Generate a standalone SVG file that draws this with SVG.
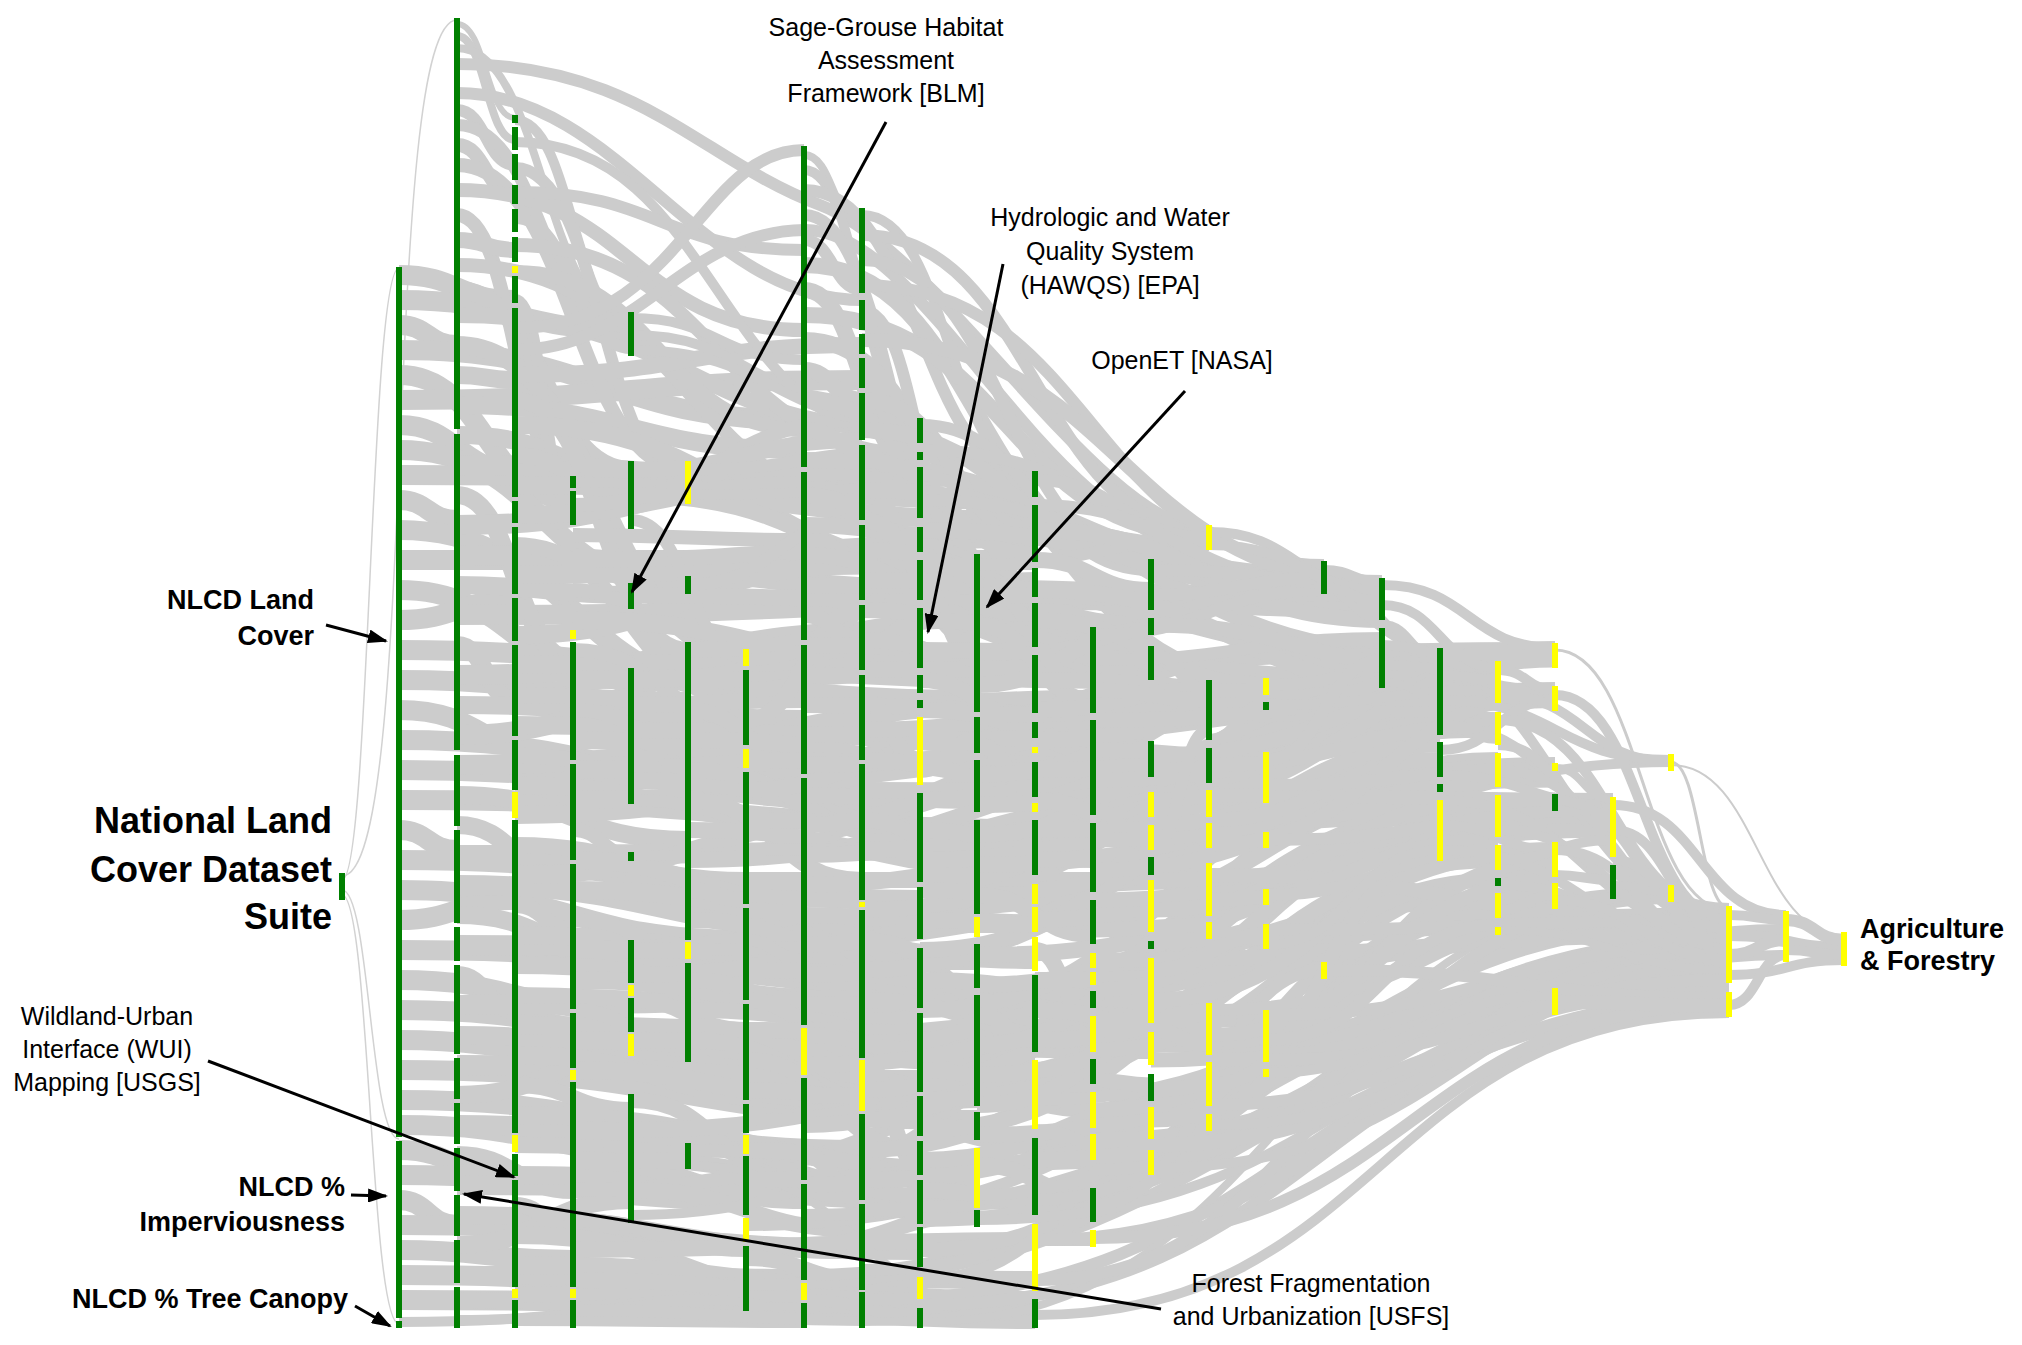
<svg xmlns="http://www.w3.org/2000/svg" width="2022" height="1345" viewBox="0 0 2022 1345">
<style>
.lk{fill:none;stroke:#cccccc;stroke-width:14}
.th{fill:none;stroke:#d2d2d2;stroke-width:1.5}
.g{stroke:#008000;stroke-width:6;fill:none}
.y{stroke:#ffff00;stroke-width:6;fill:none}
.ar{stroke:#000;stroke-width:3;fill:none;marker-end:url(#ah)}
.t{font-family:"Liberation Sans",Arial,sans-serif;font-size:25px;fill:#000}
.b{font-family:"Liberation Sans",Arial,sans-serif;font-weight:bold;font-size:27px;fill:#000}
.bb{font-family:"Liberation Sans",Arial,sans-serif;font-weight:bold;font-size:36px;fill:#000}
</style>
<defs>
<marker id="ah" markerUnits="userSpaceOnUse" markerWidth="20" markerHeight="14" viewBox="0 0 20 14" refX="18" refY="7" orient="auto"><path d="M0 0L20 7L0 14z" fill="#000"/></marker>
</defs>
<rect width="2022" height="1345" fill="#fff"/>
<g id="links" class="lk">
<g id="thin" class="th">
<path d="M342 880C370 880 370 268 399 268"/>
<path d="M342 876C420 876 380 20 457 20"/>
<path d="M342 890C370 890 370 1139 399 1139"/>
<path d="M342 895C370 895 370 1324 399 1324"/>
</g>
<g id="from1" stroke-width="20">
<path d="M399 275C457 275 457 300 515 300"/>
<path d="M399 300C515 300 515 330 631 330"/>
<path d="M399 325C428 325 428 345 457 345"/>
<path d="M399 350C602 350 602 420 804 420"/>
<path d="M399 375C486 375 486 500 573 500"/>
<path d="M399 400C631 400 631 380 862 380"/>
<path d="M399 425C457 425 457 470 515 470"/>
<path d="M399 450C544 450 544 588 688 588"/>
<path d="M399 475C660 475 660 480 920 480"/>
<path d="M399 500C428 500 428 520 457 520"/>
<path d="M399 530C573 530 573 690 746 690"/>
<path d="M399 560H1035"/>
<path d="M399 590C515 590 515 680 631 680"/>
<path d="M399 620C457 620 457 600 515 600"/>
<path d="M399 650C688 650 688 700 977 700"/>
<path d="M399 680C602 680 602 720 804 720"/>
<path d="M399 710C486 710 486 760 573 760"/>
<path d="M399 740C631 740 631 800 862 800"/>
<path d="M399 770C544 770 544 780 688 780"/>
<path d="M399 800C746 800 746 830 1093 830"/>
<path d="M399 830C428 830 428 850 457 850"/>
<path d="M399 860C660 860 660 900 920 900"/>
<path d="M399 890C573 890 573 940 746 940"/>
<path d="M399 920C457 920 457 900 515 900"/>
<path d="M399 950C717 950 717 990 1035 990"/>
<path d="M399 980C515 980 515 1010 631 1010"/>
<path d="M399 1010C602 1010 602 1060 804 1060"/>
<path d="M399 1040C486 1040 486 1050 573 1050"/>
<path d="M399 1070C688 1070 688 1120 977 1120"/>
<path d="M399 1100C631 1100 631 1150 862 1150"/>
<path d="M399 1125C544 1125 544 1155 688 1155"/>
<path d="M399 1150C457 1150 457 1180 515 1180"/>
<path d="M399 1175C573 1175 573 1200 746 1200"/>
<path d="M399 1200C428 1200 428 1225 457 1225"/>
<path d="M399 1225C660 1225 660 1250 920 1250"/>
<path d="M399 1250C486 1250 486 1260 573 1260"/>
<path d="M399 1275C602 1275 602 1290 804 1290"/>
<path d="M399 1300C717 1300 717 1310 1035 1310"/>
<path d="M399 1322C573 1322 573 1305 746 1305" stroke-width="10"/>
</g>
<g id="from2" stroke-width="20">
<path d="M457 24C486 24 486 118 515 118" stroke-width="6"/>
<path d="M457 36C486 36 486 140 515 140" stroke-width="8"/>
<path d="M457 48C544 48 544 320 631 320" stroke-width="8"/>
<path d="M457 64C640 64 700 160 820 205S1100 530 1209 530" stroke-width="12"/>
<path d="M457 93C620 93 700 300 862 300" stroke-width="12"/>
<path d="M457 110C486 110 486 165 515 165" stroke-width="12"/>
<path d="M457 125C544 125 544 340 631 340" stroke-width="12"/>
<path d="M457 145C486 145 486 195 515 195" stroke-width="14"/>
<path d="M457 165C573 165 573 470 688 470" stroke-width="14"/>
<path d="M457 190C631 190 631 330 804 330" stroke-width="14"/>
<path d="M457 215C515 215 515 480 573 480" stroke-width="14"/>
<path d="M457 240C486 240 486 250 515 250" stroke-width="16"/>
<path d="M457 265C689 265 689 520 920 520" stroke-width="14"/>
<path d="M457 290C544 290 544 470 631 470" stroke-width="18"/>
<path d="M457 315C689 315 689 430 920 430" stroke-width="16"/>
<path d="M457 345C602 345 602 655 746 655" stroke-width="18"/>
<path d="M457 375C486 375 486 380 515 380" stroke-width="18"/>
<path d="M457 405C631 405 631 450 804 450" stroke-width="18"/>
<path d="M457 435C573 435 573 490 688 490" stroke-width="18"/>
<path d="M457 465C746 465 746 500 1035 500"/>
<path d="M457 495C515 495 515 660 573 660" stroke-width="18"/>
<path d="M457 525C660 525 660 470 862 470"/>
<path d="M457 555C717 555 717 590 977 590"/>
<path d="M457 585C544 585 544 595 631 595" stroke-width="18"/>
<path d="M457 615C804 615 804 600 1151 600"/>
<path d="M457 645C486 645 486 700 515 700" stroke-width="18"/>
<path d="M457 675C689 675 689 630 920 630"/>
<path d="M457 705C602 705 602 720 746 720" stroke-width="18"/>
<path d="M457 735C631 735 631 650 804 650"/>
<path d="M457 765C775 765 775 700 1093 700"/>
<path d="M457 795C573 795 573 840 688 840" stroke-width="18"/>
<path d="M457 825C515 825 515 880 573 880" stroke-width="18"/>
<path d="M457 855C746 855 746 850 1035 850"/>
<path d="M457 885C660 885 660 930 862 930"/>
<path d="M457 915C544 915 544 955 631 955" stroke-width="18"/>
<path d="M457 945C717 945 717 960 977 960"/>
<path d="M457 975C486 975 486 1010 515 1010" stroke-width="18"/>
<path d="M457 1005C804 1005 804 990 1151 990"/>
<path d="M457 1035C602 1035 602 1060 746 1060" stroke-width="18"/>
<path d="M457 1065C689 1065 689 1080 920 1080"/>
<path d="M457 1095C573 1095 573 1030 688 1030" stroke-width="18"/>
<path d="M457 1125C631 1125 631 1150 804 1150"/>
<path d="M457 1155C515 1155 515 1190 573 1190" stroke-width="18"/>
<path d="M457 1185C775 1185 775 1200 1093 1200"/>
<path d="M457 1215C660 1215 660 1250 862 1250" stroke-width="18"/>
<path d="M457 1245C544 1245 544 1200 631 1200" stroke-width="18"/>
<path d="M457 1275C746 1275 746 1280 1035 1280" stroke-width="18"/>
<path d="M457 1300C631 1300 631 1315 804 1315" stroke-width="16"/>
<path d="M457 1320C602 1320 602 1300 746 1300" stroke-width="10"/>
</g>
<g id="from3" stroke-width="20">
<path d="M515 120C573 120 573 325 631 325" stroke-width="10"/>
<path d="M515 142C718 142 718 440 920 440" stroke-width="10"/>
<path d="M515 168C602 168 602 480 688 480" stroke-width="12"/>
<path d="M515 192C660 192 660 250 804 250" stroke-width="12"/>
<path d="M515 218C573 218 573 348 631 348" stroke-width="12"/>
<path d="M515 245C718 245 718 455 920 455" stroke-width="14"/>
<path d="M515 272C660 272 660 430 804 430" stroke-width="14"/>
<path d="M515 300C544 300 544 510 573 510" stroke-width="12"/>
<path d="M515 328C680 328 700 150 804 150" stroke-width="12"/>
<path d="M515 350C640 350 680 232 804 230S1050 545 1209 545" stroke-width="12"/>
<path d="M515 375C689 375 689 345 862 345" stroke-width="16"/>
<path d="M515 400C602 400 602 650 688 650" stroke-width="16"/>
<path d="M515 425C746 425 746 570 977 570" stroke-width="18"/>
<path d="M515 455C573 455 573 500 631 500" stroke-width="16"/>
<path d="M515 485C775 485 775 520 1035 520" stroke-width="18"/>
<path d="M515 515C660 515 660 485 804 485" stroke-width="18"/>
<path d="M515 545C631 545 631 700 746 700" stroke-width="16"/>
<path d="M515 575C718 575 718 565 920 565" stroke-width="18"/>
<path d="M515 605C544 605 544 680 573 680" stroke-width="16"/>
<path d="M515 635C689 635 689 565 862 565" stroke-width="18"/>
<path d="M515 665C804 665 804 655 1093 655" stroke-width="18"/>
<path d="M515 695C602 695 602 700 688 700" stroke-width="16"/>
<path d="M515 725C746 725 746 765 977 765" stroke-width="18"/>
<path d="M515 755C573 755 573 765 631 765" stroke-width="16"/>
<path d="M515 785C660 785 660 820 804 820" stroke-width="18"/>
<path d="M515 815C862 815 862 700 1209 700" stroke-width="18"/>
<path d="M515 845C631 845 631 880 746 880" stroke-width="16"/>
<path d="M515 875C718 875 718 810 920 810" stroke-width="18"/>
<path d="M515 905C544 905 544 930 573 930" stroke-width="16"/>
<path d="M515 935C775 935 775 1000 1035 1000" stroke-width="18"/>
<path d="M515 965C689 965 689 1000 862 1000" stroke-width="18"/>
<path d="M515 995C602 995 602 1000 688 1000" stroke-width="16"/>
<path d="M515 1025C833 1025 833 1050 1151 1050" stroke-width="18"/>
<path d="M515 1055C660 1055 660 1100 804 1100" stroke-width="18"/>
<path d="M515 1085C573 1085 573 1110 631 1110" stroke-width="16"/>
<path d="M515 1115C746 1115 746 1170 977 1170" stroke-width="18"/>
<path d="M515 1145C631 1145 631 1150 746 1150" stroke-width="16"/>
<path d="M515 1175C718 1175 718 1200 920 1200" stroke-width="18"/>
<path d="M515 1205C544 1205 544 1230 573 1230" stroke-width="16"/>
<path d="M515 1235C689 1235 689 1300 862 1300" stroke-width="18"/>
<path d="M515 1265C775 1265 775 1300 1035 1300" stroke-width="18"/>
<path d="M515 1295C631 1295 631 1285 746 1285" stroke-width="16"/>
<path d="M515 1320C660 1320 660 1322 804 1322" stroke-width="12"/>
</g>
<g id="from4" stroke-width="18">
<path d="M573 482C631 482 631 485 688 485" stroke-width="10"/>
<path d="M573 505C718 505 718 420 862 420" stroke-width="14"/>
<path d="M573 535C689 535 689 540 804 540" stroke-width="14"/>
<path d="M573 560C804 560 804 540 1035 540" stroke-width="16"/>
<path d="M573 590C602 590 602 600 631 600" stroke-width="14"/>
<path d="M573 620C747 620 747 660 920 660"/>
<path d="M573 650C660 650 660 720 746 720" stroke-width="14"/>
<path d="M573 680C862 680 862 650 1151 650"/>
<path d="M573 710C631 710 631 740 688 740" stroke-width="14"/>
<path d="M573 740C775 740 775 800 977 800"/>
<path d="M573 770C718 770 718 760 862 760"/>
<path d="M573 800C833 800 833 760 1093 760"/>
<path d="M573 830C602 830 602 855 631 855" stroke-width="14"/>
<path d="M573 860C689 860 689 900 804 900"/>
<path d="M573 890C804 890 804 960 1035 960"/>
<path d="M573 920C660 920 660 980 746 980" stroke-width="14"/>
<path d="M573 950C891 950 891 880 1209 880"/>
<path d="M573 980C747 980 747 1020 920 1020"/>
<path d="M573 1010C631 1010 631 1050 688 1050" stroke-width="14"/>
<path d="M573 1040C833 1040 833 1100 1093 1100"/>
<path d="M573 1070C718 1070 718 1100 862 1100"/>
<path d="M573 1100C602 1100 602 1160 631 1160" stroke-width="14"/>
<path d="M573 1130C775 1130 775 1200 977 1200"/>
<path d="M573 1160C689 1160 689 1200 804 1200"/>
<path d="M573 1190C920 1190 920 1040 1266 1040" stroke-width="14"/>
<path d="M573 1220C660 1220 660 1250 746 1250" stroke-width="14"/>
<path d="M573 1250C804 1250 804 1240 1035 1240" stroke-width="16"/>
<path d="M573 1280C747 1280 747 1300 920 1300" stroke-width="16"/>
<path d="M573 1310C718 1310 718 1320 862 1320" stroke-width="12"/>
</g>
<g id="from5" stroke-width="16">
<path d="M631 318C718 318 718 360 804 360" stroke-width="10"/>
<path d="M631 335C747 335 747 400 862 400" stroke-width="10"/>
<path d="M631 350C776 350 776 425 920 425" stroke-width="10"/>
<path d="M631 470C747 470 747 440 862 440"/>
<path d="M631 495C862 495 862 635 1093 635"/>
<path d="M631 520C689 520 689 658 746 658" stroke-width="12"/>
<path d="M631 595C776 595 776 600 920 600"/>
<path d="M631 680C833 680 833 610 1035 610"/>
<path d="M631 705C718 705 718 700 804 700"/>
<path d="M631 730C891 730 891 750 1151 750"/>
<path d="M631 755C660 755 660 800 688 800"/>
<path d="M631 780C804 780 804 830 977 830"/>
<path d="M631 800C747 800 747 850 862 850" stroke-width="12"/>
<path d="M631 856C920 856 920 760 1209 760" stroke-width="10"/>
<path d="M631 950C776 950 776 960 920 960"/>
<path d="M631 975C862 975 862 900 1093 900"/>
<path d="M631 1000C689 1000 689 1030 746 1030"/>
<path d="M631 1040C833 1040 833 1065 1035 1065"/>
<path d="M631 1100C718 1100 718 1180 804 1180"/>
<path d="M631 1130C949 1130 949 1015 1266 1015"/>
<path d="M631 1160C804 1160 804 1215 977 1215"/>
<path d="M631 1190C747 1190 747 1230 862 1230"/>
<path d="M631 1215C978 1215 978 968 1324 968" stroke-width="10"/>
</g>
<g id="from6" stroke-width="16">
<path d="M688 470C804 470 804 450 920 450" stroke-width="12"/>
<path d="M688 495C862 495 862 480 1035 480" stroke-width="10"/>
<path d="M688 585C775 585 775 520 862 520" stroke-width="12"/>
<path d="M688 650C833 650 833 620 977 620"/>
<path d="M688 680C920 680 920 660 1151 660"/>
<path d="M688 710C746 710 746 760 804 760"/>
<path d="M688 740C891 740 891 780 1093 780"/>
<path d="M688 770C804 770 804 840 920 840"/>
<path d="M688 800C775 800 775 880 862 880"/>
<path d="M688 830C862 830 862 870 1035 870"/>
<path d="M688 860C977 860 977 760 1266 760"/>
<path d="M688 890C717 890 717 900 746 900"/>
<path d="M688 920C833 920 833 1000 977 1000"/>
<path d="M688 950C949 950 949 910 1209 910" stroke-width="12"/>
<path d="M688 980C746 980 746 1000 804 1000"/>
<path d="M688 1010C920 1010 920 1090 1151 1090"/>
<path d="M688 1040C804 1040 804 1110 920 1110"/>
<path d="M688 1150C891 1150 891 1205 1093 1205" stroke-width="12"/>
<path d="M688 1165C862 1165 862 1320 1035 1320" stroke-width="8"/>
</g>
<g id="from7" stroke-width="16">
<path d="M746 660C862 660 862 560 977 560" stroke-width="12"/>
<path d="M746 690C891 690 891 580 1035 580"/>
<path d="M746 720C804 720 804 610 862 610"/>
<path d="M746 760C949 760 949 770 1151 770"/>
<path d="M746 790C833 790 833 760 920 760"/>
<path d="M746 820C920 820 920 840 1093 840"/>
<path d="M746 850C1093 850 1093 820 1440 820" stroke-width="12"/>
<path d="M746 880H977"/>
<path d="M746 910C891 910 891 1010 1035 1010"/>
<path d="M746 940C775 940 775 960 804 960" stroke-width="12"/>
<path d="M746 970C978 970 978 1010 1209 1010"/>
<path d="M746 1000C804 1000 804 1050 862 1050"/>
<path d="M746 1030C1006 1030 1006 1045 1266 1045"/>
<path d="M746 1060C833 1060 833 1150 920 1150"/>
<path d="M746 1090C920 1090 920 1150 1093 1150"/>
<path d="M746 1120C1093 1120 1093 850 1440 850" stroke-width="12"/>
<path d="M746 1150C862 1150 862 1180 977 1180"/>
<path d="M746 1180C949 1180 949 1160 1151 1160"/>
<path d="M746 1225C1151 1225 1151 1000 1555 1000" stroke-width="12"/>
<path d="M746 1258C804 1258 804 1280 862 1280"/>
<path d="M746 1285C1238 1285 1238 1012 1729 1012" stroke-width="12"/>
<path d="M746 1306C891 1306 891 1322 1035 1322" stroke-width="8"/>
</g>
<g id="from8" stroke-width="16">
<path d="M804 155C833 155 833 225 862 225" stroke-width="8"/>
<path d="M804 170C862 170 862 425 920 425" stroke-width="10"/>
<path d="M804 190C920 190 920 478 1035 478" stroke-width="12"/>
<path d="M804 215C891 215 891 560 977 560" stroke-width="12"/>
<path d="M804 240C833 240 833 290 862 290" stroke-width="12"/>
<path d="M804 265C978 265 978 565 1151 565"/>
<path d="M804 290C862 290 862 470 920 470"/>
<path d="M804 315C1007 315 1007 535 1209 535"/>
<path d="M804 340C920 340 920 525 1035 525"/>
<path d="M804 370C833 370 833 400 862 400"/>
<path d="M804 400C949 400 949 640 1093 640"/>
<path d="M804 430C891 430 891 600 977 600"/>
<path d="M804 460C1064 460 1064 575 1324 575"/>
<path d="M804 495C862 495 862 535 920 535"/>
<path d="M804 525C978 525 978 605 1151 605"/>
<path d="M804 555C920 555 920 630 1035 630"/>
<path d="M804 585C1093 585 1093 595 1382 595"/>
<path d="M804 615C833 615 833 640 862 640"/>
<path d="M804 645C1035 645 1035 690 1266 690"/>
<path d="M804 675C891 675 891 680 977 680"/>
<path d="M804 705C1007 705 1007 720 1209 720"/>
<path d="M804 735C949 735 949 725 1093 725"/>
<path d="M804 765C1122 765 1122 665 1440 665"/>
<path d="M804 795C862 795 862 800 920 800"/>
<path d="M804 825C920 825 920 770 1035 770"/>
<path d="M804 855C978 855 978 805 1151 805"/>
<path d="M804 885C1151 885 1151 675 1498 675"/>
<path d="M804 915C891 915 891 925 977 925"/>
<path d="M804 945C1007 945 1007 800 1209 800"/>
<path d="M804 975C1180 975 1180 700 1555 700"/>
<path d="M804 1005C949 1005 949 1000 1093 1000"/>
<path d="M804 1035C862 1035 862 1050 920 1050"/>
<path d="M804 1065C1151 1065 1151 900 1498 900"/>
<path d="M804 1095C920 1095 920 1100 1035 1100"/>
<path d="M804 1125C1035 1125 1035 940 1266 940"/>
<path d="M804 1155C833 1155 833 1200 862 1200"/>
<path d="M804 1185C978 1185 978 1130 1151 1130"/>
<path d="M804 1215C1267 1215 1267 960 1729 960" stroke-width="12"/>
<path d="M804 1245C891 1245 891 1215 977 1215"/>
<path d="M804 1275C1180 1275 1180 1005 1555 1005" stroke-width="12"/>
<path d="M804 1300C862 1300 862 1315 920 1315" stroke-width="12"/>
<path d="M804 1320C920 1320 920 1325 1035 1325" stroke-width="8"/>
</g>
<g id="from9" stroke-width="16">
<path d="M862 215C949 215 949 474 1035 474" stroke-width="10"/>
<path d="M862 235C1036 235 1036 530 1209 530" stroke-width="12"/>
<path d="M862 260C1007 260 1007 562 1151 562" stroke-width="12"/>
<path d="M862 285C1093 285 1093 565 1324 565" stroke-width="12"/>
<path d="M862 310C920 310 920 578 977 578" stroke-width="12"/>
<path d="M862 340C1122 340 1122 582 1382 582" stroke-width="14"/>
<path d="M862 370C891 370 891 500 920 500"/>
<path d="M862 400C978 400 978 630 1093 630"/>
<path d="M862 430C1064 430 1064 680 1266 680"/>
<path d="M862 460C949 460 949 555 1035 555"/>
<path d="M862 490C1151 490 1151 655 1440 655"/>
<path d="M862 520C920 520 920 640 977 640"/>
<path d="M862 550C1007 550 1007 625 1151 625"/>
<path d="M862 580C1180 580 1180 665 1498 665"/>
<path d="M862 610C1007 610 1007 670 1151 670"/>
<path d="M862 640C949 640 949 680 1035 680"/>
<path d="M862 670C1209 670 1209 650 1555 650"/>
<path d="M862 700C891 700 891 760 920 760"/>
<path d="M862 730C1122 730 1122 640 1382 640"/>
<path d="M862 760C978 760 978 800 1093 800"/>
<path d="M862 790C1238 790 1238 805 1613 805"/>
<path d="M862 820C920 820 920 860 977 860"/>
<path d="M862 850C1064 850 1064 780 1266 780"/>
<path d="M862 880H1151"/>
<path d="M862 910C1151 910 1151 700 1440 700"/>
<path d="M862 940C949 940 949 1020 1035 1020"/>
<path d="M862 970C1036 970 1036 870 1209 870"/>
<path d="M862 1000C978 1000 978 1040 1093 1040"/>
<path d="M862 1030C1267 1030 1267 762 1671 762" stroke-width="10"/>
<path d="M862 1060C891 1060 891 1165 920 1165"/>
<path d="M862 1090C1180 1090 1180 760 1498 760"/>
<path d="M862 1120C920 1120 920 1100 977 1100"/>
<path d="M862 1150C1151 1150 1151 840 1440 840"/>
<path d="M862 1180C1007 1180 1007 1150 1151 1150"/>
<path d="M862 1210C1296 1210 1296 985 1729 985" stroke-width="14"/>
<path d="M862 1240H1093" stroke-width="12"/>
<path d="M862 1270C1209 1270 1209 995 1555 995" stroke-width="12"/>
<path d="M862 1300C1296 1300 1296 1008 1729 1008" stroke-width="12"/>
<path d="M862 1322C949 1322 949 1310 1035 1310" stroke-width="8"/>
</g>
<g id="from10" stroke-width="16">
<path d="M920 425C1036 425 1036 570 1151 570" stroke-width="12"/>
<path d="M920 450C1122 450 1122 580 1324 580" stroke-width="12"/>
<path d="M920 475C978 475 978 540 1035 540" stroke-width="12"/>
<path d="M920 500C1065 500 1065 545 1209 545" stroke-width="12"/>
<path d="M920 530C1151 530 1151 600 1382 600"/>
<path d="M920 560C1007 560 1007 680 1093 680"/>
<path d="M920 590C949 590 949 660 977 660"/>
<path d="M920 620C1093 620 1093 700 1266 700"/>
<path d="M920 650C1180 650 1180 680 1440 680"/>
<path d="M920 680C978 680 978 720 1035 720"/>
<path d="M920 710C1036 710 1036 760 1151 760"/>
<path d="M920 740C1209 740 1209 700 1498 700"/>
<path d="M920 770C949 770 949 740 977 740"/>
<path d="M920 800C1151 800 1151 665 1382 665"/>
<path d="M920 830C1007 830 1007 860 1093 860"/>
<path d="M920 860C1238 860 1238 690 1555 690"/>
<path d="M920 890C978 890 978 895 1035 895"/>
<path d="M920 920C1065 920 1065 930 1209 930"/>
<path d="M920 950C1093 950 1093 840 1266 840"/>
<path d="M920 980C1036 980 1036 1000 1151 1000"/>
<path d="M920 1010C1180 1010 1180 760 1440 760"/>
<path d="M920 1040C949 1040 949 1030 977 1030"/>
<path d="M920 1070C1007 1070 1007 1110 1093 1110"/>
<path d="M920 1100C1267 1100 1267 820 1613 820"/>
<path d="M920 1130C1209 1130 1209 820 1498 820"/>
<path d="M920 1160C1065 1160 1065 1095 1209 1095"/>
<path d="M920 1190C978 1190 978 1200 1035 1200"/>
<path d="M920 1220C1325 1220 1325 940 1729 940" stroke-width="14"/>
<path d="M920 1250C1238 1250 1238 870 1555 870" stroke-width="14"/>
<path d="M920 1280C1093 1280 1093 1070 1266 1070" stroke-width="12"/>
<path d="M920 1305C1325 1305 1325 1000 1729 1000" stroke-width="12"/>
<path d="M920 1322C1296 1322 1296 895 1671 895" stroke-width="8"/>
</g>
<g id="from11" stroke-width="16">
<path d="M977 565C1093 565 1093 540 1209 540" stroke-width="12"/>
<path d="M977 595C1180 595 1180 610 1382 610"/>
<path d="M977 625C1035 625 1035 700 1093 700"/>
<path d="M977 655C1151 655 1151 588 1324 588" stroke-width="12"/>
<path d="M977 685C1064 685 1064 630 1151 630"/>
<path d="M977 715C1238 715 1238 680 1498 680"/>
<path d="M977 745C1006 745 1006 790 1035 790"/>
<path d="M977 775C1122 775 1122 705 1266 705"/>
<path d="M977 805C1209 805 1209 720 1440 720"/>
<path d="M977 835C1093 835 1093 770 1209 770"/>
<path d="M977 865C1266 865 1266 765 1555 765"/>
<path d="M977 895C1035 895 1035 935 1093 935"/>
<path d="M977 925C1064 925 1064 920 1151 920"/>
<path d="M977 955C1295 955 1295 825 1613 825"/>
<path d="M977 985C1238 985 1238 805 1498 805"/>
<path d="M977 1015C1006 1015 1006 1040 1035 1040"/>
<path d="M977 1045C1122 1045 1122 895 1266 895"/>
<path d="M977 1075C1238 1075 1238 860 1498 860"/>
<path d="M977 1105C1093 1105 1093 1020 1209 1020"/>
<path d="M977 1135C1353 1135 1353 920 1729 920"/>
<path d="M977 1165C1035 1165 1035 1195 1093 1195"/>
<path d="M977 1195C1266 1195 1266 900 1555 900" stroke-width="12"/>
<path d="M977 1220C1353 1220 1353 990 1729 990" stroke-width="10"/>
</g>
<g id="from12" stroke-width="16">
<path d="M1035 480C1122 480 1122 538 1209 538" stroke-width="12"/>
<path d="M1035 505C1180 505 1180 582 1324 582" stroke-width="12"/>
<path d="M1035 530C1209 530 1209 620 1382 620"/>
<path d="M1035 560C1093 560 1093 590 1151 590"/>
<path d="M1035 590C1238 590 1238 690 1440 690"/>
<path d="M1035 620C1151 620 1151 685 1266 685"/>
<path d="M1035 650C1064 650 1064 740 1093 740"/>
<path d="M1035 680C1267 680 1267 720 1498 720"/>
<path d="M1035 710C1122 710 1122 690 1209 690"/>
<path d="M1035 740C1209 740 1209 680 1382 680"/>
<path d="M1035 770C1295 770 1295 700 1555 700"/>
<path d="M1035 800C1093 800 1093 830 1151 830"/>
<path d="M1035 830C1324 830 1324 810 1613 810"/>
<path d="M1035 860C1238 860 1238 780 1440 780"/>
<path d="M1035 890C1151 890 1151 790 1266 790"/>
<path d="M1035 920C1267 920 1267 780 1498 780"/>
<path d="M1035 950C1064 950 1064 1020 1093 1020"/>
<path d="M1035 980C1382 980 1382 930 1729 930"/>
<path d="M1035 1010C1122 1010 1122 1040 1209 1040"/>
<path d="M1035 1040C1295 1040 1295 850 1555 850"/>
<path d="M1035 1070C1151 1070 1151 930 1266 930"/>
<path d="M1035 1100C1353 1100 1353 892 1671 892" stroke-width="12"/>
<path d="M1035 1130C1093 1130 1093 1170 1151 1170" stroke-width="12"/>
<path d="M1035 1160C1382 1160 1382 950 1729 950"/>
<path d="M1035 1200C1267 1200 1267 910 1498 910" stroke-width="12"/>
<path d="M1035 1240C1382 1240 1382 970 1729 970" stroke-width="12"/>
<path d="M1035 1280C1295 1280 1295 1008 1555 1008" stroke-width="12"/>
<path d="M1035 1315C1382 1315 1382 1013 1729 1013" stroke-width="10"/>
</g>
<g id="from13" stroke-width="15">
<path d="M1093 635C1209 635 1209 590 1324 590" stroke-width="12"/>
<path d="M1093 660C1238 660 1238 640 1382 640" stroke-width="12"/>
<path d="M1093 690C1151 690 1151 700 1209 700"/>
<path d="M1093 720C1267 720 1267 710 1440 710"/>
<path d="M1093 750C1180 750 1180 758 1266 758"/>
<path d="M1093 780C1296 780 1296 730 1498 730"/>
<path d="M1093 810C1122 810 1122 845 1151 845"/>
<path d="M1093 840C1324 840 1324 780 1555 780"/>
<path d="M1093 870C1267 870 1267 805 1440 805"/>
<path d="M1093 900C1353 900 1353 815 1613 815"/>
<path d="M1093 930C1151 930 1151 925 1209 925"/>
<path d="M1093 960C1411 960 1411 935 1729 935"/>
<path d="M1093 990C1267 990 1267 830 1440 830"/>
<path d="M1093 1020H1266"/>
<path d="M1093 1050C1296 1050 1296 880 1498 880"/>
<path d="M1093 1080C1122 1080 1122 1085 1151 1085"/>
<path d="M1093 1110C1324 1110 1324 890 1555 890"/>
<path d="M1093 1140C1411 1140 1411 955 1729 955"/>
<path d="M1093 1170C1382 1170 1382 898 1671 898" stroke-width="12"/>
<path d="M1093 1205C1209 1205 1209 970 1324 970" stroke-width="12"/>
<path d="M1093 1238C1411 1238 1411 1005 1729 1005" stroke-width="12"/>
</g>
<g id="from14" stroke-width="15">
<path d="M1151 570C1267 570 1267 585 1382 585" stroke-width="12"/>
<path d="M1151 595C1238 595 1238 578 1324 578" stroke-width="12"/>
<path d="M1151 625C1296 625 1296 665 1440 665"/>
<path d="M1151 655C1180 655 1180 690 1209 690" stroke-width="12"/>
<path d="M1151 755C1325 755 1325 690 1498 690"/>
<path d="M1151 770H1266"/>
<path d="M1151 800C1353 800 1353 660 1555 660"/>
<path d="M1151 825C1296 825 1296 745 1440 745"/>
<path d="M1151 850C1180 850 1180 730 1209 730" stroke-width="12"/>
<path d="M1151 880C1382 880 1382 830 1613 830"/>
<path d="M1151 910C1325 910 1325 800 1498 800"/>
<path d="M1151 940C1440 940 1440 915 1729 915"/>
<path d="M1151 970C1209 970 1209 935 1266 935"/>
<path d="M1151 1000C1353 1000 1353 800 1555 800"/>
<path d="M1151 1030C1180 1030 1180 1045 1209 1045"/>
<path d="M1151 1060C1440 1060 1440 945 1729 945"/>
<path d="M1151 1090C1325 1090 1325 915 1498 915"/>
<path d="M1151 1120C1353 1120 1353 860 1555 860"/>
<path d="M1151 1145C1440 1145 1440 965 1729 965"/>
<path d="M1151 1168C1469 1168 1469 955 1786 955" stroke-width="10"/>
</g>
<g id="from15" stroke-width="14">
<path d="M1209 532C1296 532 1296 590 1382 590" stroke-width="10"/>
<path d="M1209 545C1354 545 1354 665 1498 665" stroke-width="10"/>
<path d="M1209 690C1325 690 1325 700 1440 700"/>
<path d="M1209 715C1382 715 1382 648 1555 648"/>
<path d="M1209 740C1238 740 1238 705 1266 705" stroke-width="12"/>
<path d="M1209 765C1354 765 1354 725 1498 725"/>
<path d="M1209 795C1411 795 1411 800 1613 800"/>
<path d="M1209 820C1325 820 1325 760 1440 760"/>
<path d="M1209 845C1382 845 1382 695 1555 695"/>
<path d="M1209 875C1469 875 1469 925 1729 925"/>
<path d="M1209 900C1354 900 1354 840 1498 840"/>
<path d="M1209 930C1238 930 1238 940 1266 940" stroke-width="12"/>
<path d="M1209 1010C1440 1010 1440 895 1671 895" stroke-width="12"/>
<path d="M1209 1035C1382 1035 1382 880 1555 880"/>
<path d="M1209 1060C1469 1060 1469 950 1729 950"/>
<path d="M1209 1085C1325 1085 1325 855 1440 855"/>
<path d="M1209 1105C1498 1105 1498 930 1786 930" stroke-width="12"/>
<path d="M1209 1125C1469 1125 1469 978 1729 978" stroke-width="10"/>
</g>
<g id="from16" stroke-width="12">
<path d="M1266 685C1353 685 1353 660 1440 660"/>
<path d="M1266 705C1382 705 1382 690 1498 690" stroke-width="10"/>
<path d="M1266 760C1324 760 1324 660 1382 660"/>
<path d="M1266 785C1411 785 1411 768 1555 768"/>
<path d="M1266 840C1440 840 1440 810 1613 810"/>
<path d="M1266 895C1382 895 1382 850 1498 850"/>
<path d="M1266 930C1498 930 1498 920 1729 920"/>
<path d="M1266 945C1353 945 1353 850 1440 850" stroke-width="10"/>
<path d="M1266 1015C1498 1015 1498 945 1729 945"/>
<path d="M1266 1040C1382 1040 1382 925 1498 925"/>
<path d="M1266 1060C1498 1060 1498 980 1729 980"/>
<path d="M1266 1073C1411 1073 1411 995 1555 995" stroke-width="10"/>
</g>
<g id="from17to25" stroke-width="10">
<path d="M1324 570C1353 570 1353 582 1382 582"/>
<path d="M1324 588C1382 588 1382 652 1440 652"/>
<path d="M1324 970C1527 970 1527 998 1729 998" stroke-width="12"/>
<path d="M1382 585C1469 585 1469 648 1555 648"/>
<path d="M1382 605C1440 605 1440 668 1498 668"/>
<path d="M1382 625C1411 625 1411 660 1440 660"/>
<path d="M1382 645C1556 645 1556 908 1729 908"/>
<path d="M1382 665C1469 665 1469 690 1555 690"/>
<path d="M1382 682C1440 682 1440 740 1498 740" stroke-width="8"/>
<path d="M1440 655C1498 655 1498 655 1555 655"/>
<path d="M1440 675C1469 675 1469 680 1498 680"/>
<path d="M1440 700C1556 700 1556 760 1671 760"/>
<path d="M1440 725C1585 725 1585 915 1729 915"/>
<path d="M1440 750C1498 750 1498 700 1555 700"/>
<path d="M1440 775C1527 775 1527 805 1613 805"/>
<path d="M1440 800C1585 800 1585 930 1729 930"/>
<path d="M1440 825C1498 825 1498 850 1555 850"/>
<path d="M1440 850C1585 850 1585 945 1729 945"/>
<path d="M1498 670C1527 670 1527 690 1555 690"/>
<path d="M1498 695C1585 695 1585 762 1671 762"/>
<path d="M1498 720C1614 720 1614 912 1729 912"/>
<path d="M1498 745C1556 745 1556 815 1613 815"/>
<path d="M1498 770C1614 770 1614 925 1729 925"/>
<path d="M1498 800H1555"/>
<path d="M1498 830C1614 830 1614 940 1729 940"/>
<path d="M1498 860C1556 860 1556 840 1613 840"/>
<path d="M1498 885C1614 885 1614 955 1729 955"/>
<path d="M1498 910C1527 910 1527 895 1555 895"/>
<path d="M1498 930C1614 930 1614 970 1729 970" stroke-width="8"/>
<path d="M1555 650C1642 650 1642 910 1729 910" stroke-width="3"/>
<path d="M1555 695C1642 695 1642 920 1729 920"/>
<path d="M1555 768C1584 768 1584 800 1613 800" stroke-width="8"/>
<path d="M1555 800C1642 800 1642 935 1729 935"/>
<path d="M1555 850C1642 850 1642 948 1729 948"/>
<path d="M1555 875C1584 875 1584 880 1613 880"/>
<path d="M1555 900C1642 900 1642 960 1729 960"/>
<path d="M1555 1002C1642 1002 1642 1006 1729 1006" stroke-width="14"/>
<path d="M1613 805C1700 805 1700 915 1786 915"/>
<path d="M1613 830C1671 830 1671 930 1729 930"/>
<path d="M1613 860C1671 860 1671 950 1729 950"/>
<path d="M1613 885C1642 885 1642 893 1671 893" stroke-width="8"/>
<path d="M1671 762C1700 762 1700 908 1729 908" stroke-width="3"/>
<path d="M1671 765C1758 765 1758 935 1844 935" stroke-width="2"/>
<path d="M1671 893C1700 893 1700 965 1729 965"/>
<path d="M1729 915C1758 915 1758 920 1786 920"/>
<path d="M1729 935C1786 935 1786 948 1844 948" stroke-width="12"/>
<path d="M1729 955C1758 955 1758 940 1786 940" stroke-width="12"/>
<path d="M1729 975C1786 975 1786 960 1844 960"/>
<path d="M1729 1005C1758 1005 1758 955 1786 955"/>
<path d="M1786 920C1815 920 1815 940 1844 940" stroke-width="12"/>
<path d="M1786 950C1815 950 1815 955 1844 955"/>
</g>
</g>
<g id="nodes">
<g id="n0"><path class="g" d="M342 873V900"/></g>
<g id="n1"><path class="g" d="M399 267V1137M399 1141V1318M399 1321V1328"/></g>
<g id="n2"><path class="g" d="M457 18V429M457 434V750M457 755V826M457 830V923M457 927V961M457 965V1054M457 1058V1099M457 1103V1144M457 1148V1191M457 1195V1236M457 1240V1283M457 1287V1328"/></g>
<g id="n3"><path class="g" d="M515 115V123M515 127V150M515 154V180M515 185V204M515 209V232M515 237V262M515 276V303M515 308V497M515 501V523M515 527V594M515 598V641M515 645V736M515 740V790M515 820V1133M515 1154V1176M515 1180V1287M515 1300V1328"/><path class="y" d="M515 266V273M515 792V818M515 1135V1152M515 1289V1298"/></g>
<g id="n4"><path class="g" d="M573 476V488M573 491V525M573 642V760M573 764V860M573 864V1009M573 1013V1068M573 1082V1287M573 1300V1328"/><path class="y" d="M573 630V639M573 1070V1080M573 1289V1298"/></g>
<g id="n5"><path class="g" d="M631 312V356M631 461V529M631 583V609M631 668V804M631 852V861M631 940V983M631 998V1032M631 1094V1223"/><path class="y" d="M631 985V996M631 1034V1056"/></g>
<g id="n6"><path class="g" d="M688 576V594M688 642V940M688 963V1062M688 1143V1169"/><path class="y" d="M688 461V504M688 942V959"/></g>
<g id="n7"><path class="g" d="M746 670V745M746 772V904M746 908V1000M746 1004V1100M746 1104V1133M746 1156V1215M746 1246V1311"/><path class="y" d="M746 649V666M746 749V768M746 1135V1154M746 1218V1242"/></g>
<g id="n8"><path class="g" d="M804 146V467M804 472V640M804 645V774M804 778V1025M804 1078V1180M804 1184V1280M804 1303V1328"/><path class="y" d="M804 1028V1075M804 1283V1300"/></g>
<g id="n9"><path class="g" d="M862 208V293M862 300V330M862 334V354M862 358V388M862 393V440M862 445V520M862 525V600M862 605V670M862 675V760M862 764V900M862 910V1058M862 1114V1200M862 1204V1290M862 1292V1328"/><path class="y" d="M862 902V907M862 1060V1111"/></g>
<g id="n10"><path class="g" d="M920 418V443M920 452V460M920 467V518M920 527V552M920 560V600M920 608V668M920 675V693M920 700V708M920 793V882M920 887V939M920 948V1008M920 1013V1092M920 1096V1136M920 1141V1175M920 1180V1224M920 1227V1267M920 1308V1328"/><path class="y" d="M920 717V785M920 1277V1299"/></g>
<g id="n11"><path class="g" d="M977 554V712M977 717V753M977 760V812M977 820V914M977 944V988M977 995V1106M977 1112V1140M977 1210V1227"/><path class="y" d="M977 917V937M977 1148V1208"/></g>
<g id="n12"><path class="g" d="M1035 471V497M1035 505V562M1035 568V597M1035 603V647M1035 655V713M1035 722V738M1035 762V797M1035 820V875M1035 975V1052M1035 1138V1215M1035 1299V1328"/><path class="y" d="M1035 747V753M1035 803V812M1035 884V904M1035 907V932M1035 937V971M1035 1060V1129M1035 1224V1291"/></g>
<g id="n13"><path class="g" d="M1093 627V713M1093 720V815M1093 823V892M1093 900V944M1093 991V1008M1093 1059V1084M1093 1188V1222"/><path class="y" d="M1093 953V968M1093 972V985M1093 1016V1052M1093 1092V1128M1093 1134V1160M1093 1230V1247"/></g>
<g id="n14"><path class="g" d="M1151 559V610M1151 618V635M1151 646V680M1151 741V777M1151 857V875M1151 941V949M1151 1074V1101"/><path class="y" d="M1151 792V817M1151 825V850M1151 880V932M1151 958V1023M1151 1032V1065M1151 1107V1139M1151 1150V1175"/></g>
<g id="n15"><path class="g" d="M1209 680V740M1209 748V783"/><path class="y" d="M1209 525V550M1209 790V817M1209 823V848M1209 863V916M1209 922V939M1209 1003V1055M1209 1062V1106M1209 1114V1131"/></g>
<g id="n16"><path class="g" d="M1266 702V710"/><path class="y" d="M1266 678V695M1266 752V803M1266 832V848M1266 889V905M1266 924V949M1266 1010V1062M1266 1069V1077"/></g>
<g id="n17"><path class="g" d="M1324 561V594"/><path class="y" d="M1324 962V979"/></g>
<g id="n18"><path class="g" d="M1382 578V620M1382 628V688"/></g>
<g id="n19"><path class="g" d="M1440 648V735M1440 742V777M1440 784V792"/><path class="y" d="M1440 800V861"/></g>
<g id="n20"><path class="g" d="M1498 878V886"/><path class="y" d="M1498 661V703M1498 712V745M1498 753V787M1498 795V837M1498 845V870M1498 893V918M1498 927V935"/></g>
<g id="n21"><path class="g" d="M1555 794V811"/><path class="y" d="M1555 643V668M1555 686V711M1555 763V771M1555 842V877M1555 883V909M1555 988V1015"/></g>
<g id="n22"><path class="g" d="M1613 865V899"/><path class="y" d="M1613 797V857"/></g>
<g id="n23"><path class="y" d="M1671 754V771M1671 885V902"/></g>
<g id="n24"><path class="y" d="M1729 906V983M1729 992V1017"/></g>
<g id="n25"><path class="y" d="M1786 911V962"/></g>
<g id="n26"><path class="y" d="M1844 932V966"/></g>
</g>
<g id="arrows">
<path class="ar" d="M886 122L632 592"/>
<path class="ar" d="M1003 264L928 632"/>
<path class="ar" d="M1185 391L987 607"/>
<path class="ar" d="M326 625L386 641"/>
<path class="ar" d="M208 1061L514 1177"/>
<path class="ar" d="M351 1195L386 1196"/>
<path class="ar" d="M355 1306L390 1326"/>
<path class="ar" d="M1161 1309L464 1194"/>
</g>
<g id="labels">
<text class="t" text-anchor="middle" x="886" y="36">Sage-Grouse Habitat</text>
<text class="t" text-anchor="middle" x="886" y="69">Assessment</text>
<text class="t" text-anchor="middle" x="886" y="102">Framework [BLM]</text>
<text class="t" text-anchor="middle" x="1110" y="226">Hydrologic and Water</text>
<text class="t" text-anchor="middle" x="1110" y="260">Quality System</text>
<text class="t" text-anchor="middle" x="1110" y="294">(HAWQS) [EPA]</text>
<text class="t" text-anchor="middle" x="1182" y="369">OpenET [NASA]</text>
<text class="b" text-anchor="end" x="314" y="609">NLCD Land</text>
<text class="b" text-anchor="end" x="314" y="645">Cover</text>
<text class="bb" text-anchor="end" x="332" y="833">National Land</text>
<text class="bb" text-anchor="end" x="332" y="882">Cover Dataset</text>
<text class="bb" text-anchor="end" x="332" y="929">Suite</text>
<text class="t" text-anchor="middle" x="107" y="1025">Wildland-Urban</text>
<text class="t" text-anchor="middle" x="107" y="1058">Interface (WUI)</text>
<text class="t" text-anchor="middle" x="107" y="1091">Mapping [USGS]</text>
<text class="b" text-anchor="end" x="345" y="1196">NLCD %</text>
<text class="b" text-anchor="end" x="345" y="1231">Imperviousness</text>
<text class="b" text-anchor="end" x="348" y="1308">NLCD % Tree Canopy</text>
<text class="t" text-anchor="middle" x="1311" y="1292">Forest Fragmentation</text>
<text class="t" text-anchor="middle" x="1311" y="1325">and Urbanization [USFS]</text>
<text class="b" x="1860" y="938">Agriculture</text>
<text class="b" x="1860" y="970">&amp; Forestry</text>
</g>
</svg>
